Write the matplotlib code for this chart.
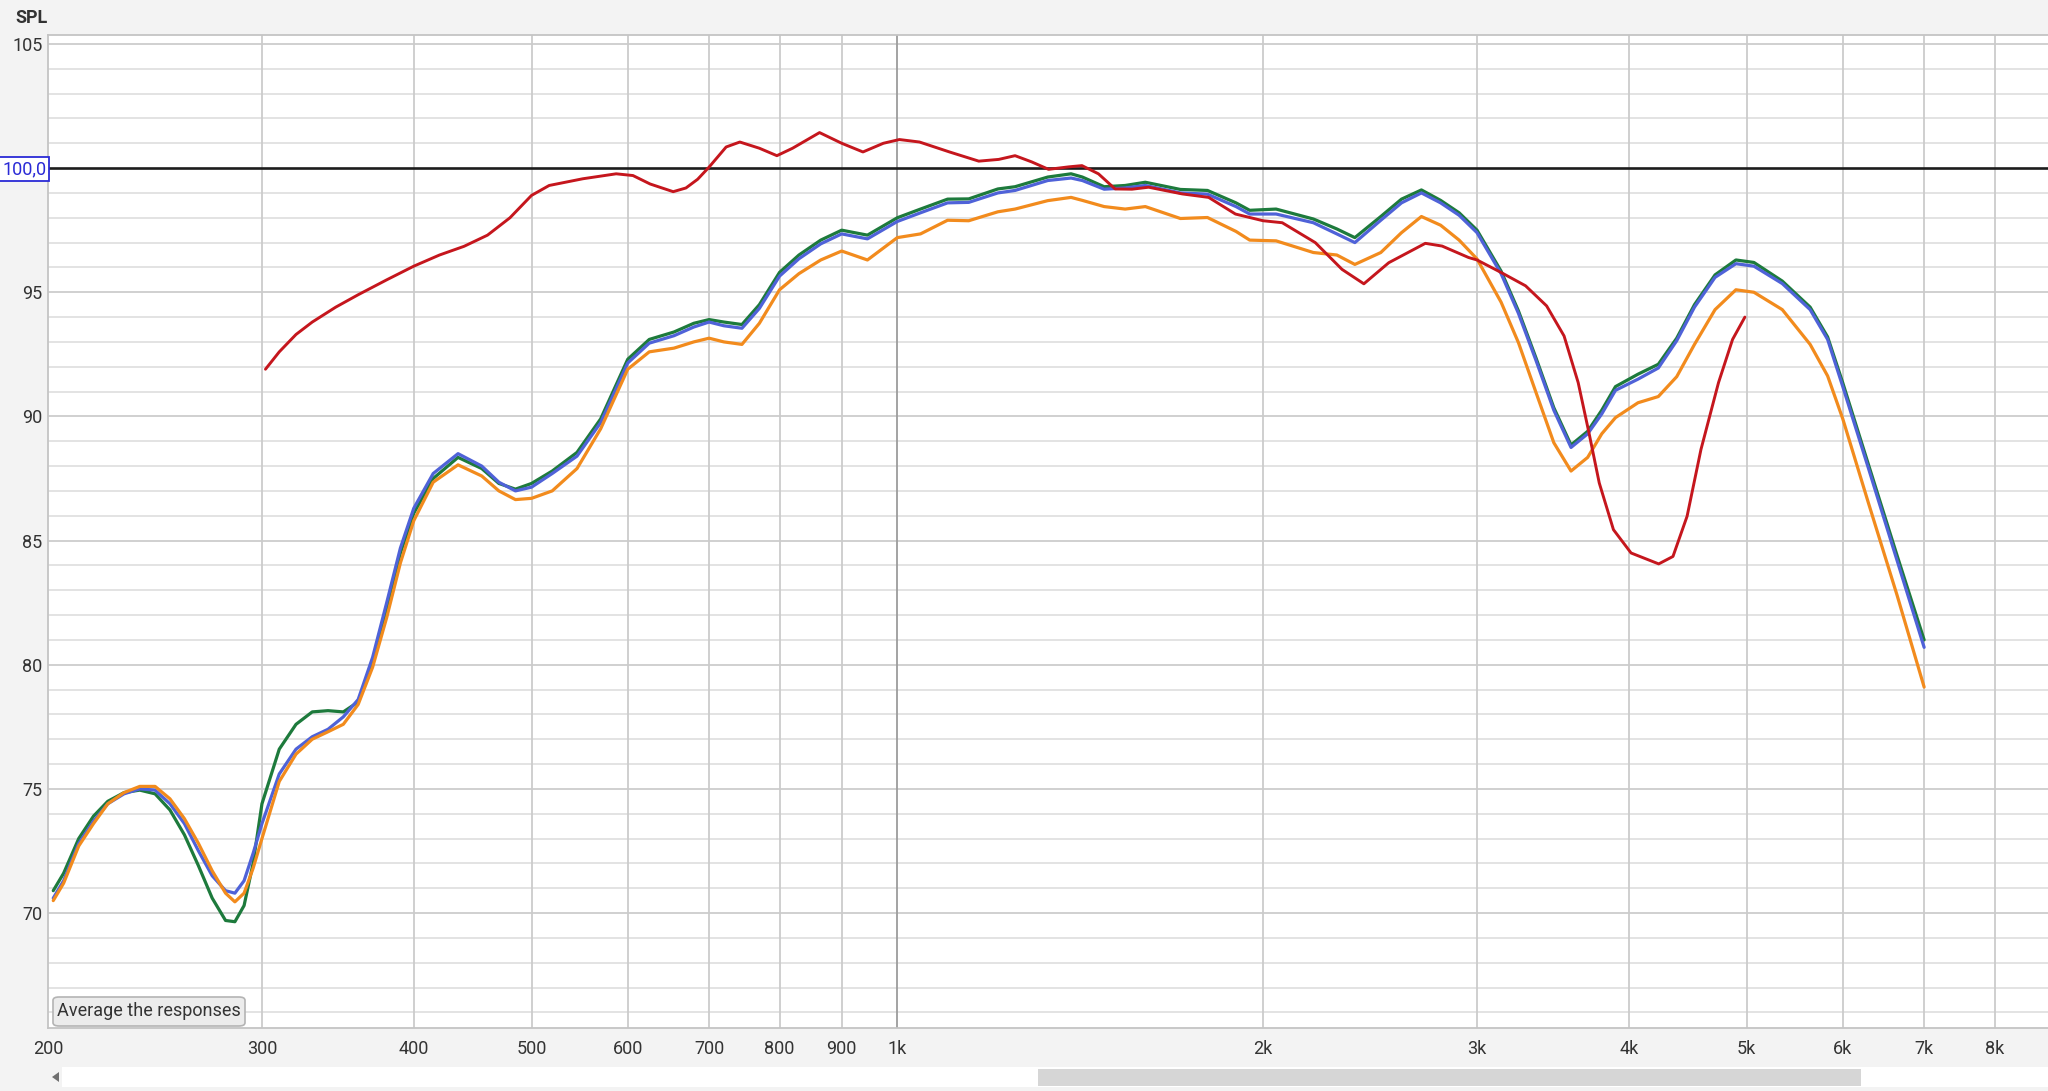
import numpy as np
import matplotlib.pyplot as plt
from matplotlib.ticker import NullLocator, FixedLocator, FixedFormatter
from matplotlib.patches import FancyBboxPatch, Rectangle, Polygon

# frequency grid shared by the three full-range responses (Hz)
freq_hz = [202, 206, 212, 218, 224, 231, 238, 245, 252, 259, 266, 273, 280, 285, 290, 295,
           300, 310, 320, 330, 340, 350, 360, 370, 380, 390, 400, 415, 435, 455, 470, 485,
           500, 520, 545, 570, 600, 625, 655, 680, 700, 720, 745, 770, 800, 830, 865, 900,
           945, 1000, 1045, 1100, 1145, 1210, 1250, 1330, 1390, 1420, 1480, 1540, 1600, 1710,
           1800, 1900, 1950, 2050, 2200, 2300, 2380, 2500, 2600, 2700, 2800, 2900, 3000,
           3140, 3245, 3355, 3470, 3585, 3700, 3800, 3900, 4070, 4230, 4380, 4530, 4710,
           4900, 5070, 5350, 5640, 5830, 6000, 6300, 6650, 7000]

spl_green = [70.9, 71.6, 73.0, 73.9, 74.5, 74.85, 74.95, 74.8, 74.15, 73.15, 71.9, 70.6, 69.7, 69.65, 70.3, 72.0,
             74.4, 76.6, 77.6, 78.1, 78.15, 78.1, 78.5, 80.1, 82.3, 84.5, 86.1, 87.5, 88.35, 87.9, 87.3, 87.07,
             87.3, 87.8, 88.55, 89.9, 92.3, 93.1, 93.4, 93.75, 93.9, 93.8, 93.7, 94.5, 95.8, 96.5, 97.1, 97.5,
             97.3, 98.0, 98.35, 98.75, 98.76, 99.16, 99.25, 99.64, 99.77, 99.64, 99.25, 99.3, 99.43, 99.14,
             99.1, 98.6, 98.3, 98.35, 97.95, 97.55, 97.2, 98.05, 98.75, 99.12, 98.7, 98.2, 97.5,
             95.85, 94.25, 92.35, 90.35, 88.85, 89.4, 90.25, 91.2, 91.7, 92.1, 93.15, 94.5, 95.7,
             96.3, 96.2, 95.45, 94.4, 93.2, 91.35, 88.05, 84.4, 81.0]

spl_blue = [70.6, 71.3, 72.8, 73.7, 74.4, 74.8, 75.0, 74.95, 74.4, 73.6, 72.5, 71.5, 70.9, 70.8, 71.3, 72.4,
            73.6, 75.6, 76.6, 77.1, 77.4, 77.9, 78.6, 80.3, 82.5, 84.7, 86.3, 87.7, 88.5, 88.0, 87.35, 87.0,
            87.15, 87.7, 88.4, 89.75, 92.15, 92.95, 93.25, 93.6, 93.8, 93.65, 93.55, 94.35, 95.65, 96.35, 96.95, 97.35,
            97.15, 97.85, 98.2, 98.6, 98.62, 99.0, 99.1, 99.5, 99.6, 99.5, 99.15, 99.2, 99.3, 99.0,
            98.95, 98.45, 98.15, 98.15, 97.8, 97.35, 97.0, 97.9, 98.6, 99.0, 98.6, 98.1, 97.4,
            95.75, 94.15, 92.25, 90.25, 88.75, 89.3, 90.1, 91.05, 91.5, 91.95, 93.05, 94.4, 95.6,
            96.15, 96.05, 95.35, 94.3, 93.1, 91.2, 87.9, 84.2, 80.7]

spl_orange = [70.5, 71.2, 72.7, 73.6, 74.4, 74.85, 75.1, 75.1, 74.6, 73.8, 72.8, 71.7, 70.8, 70.45, 70.8, 71.8,
              73.0, 75.3, 76.4, 77.0, 77.3, 77.6, 78.4, 79.9, 81.9, 84.1, 85.8, 87.35, 88.05, 87.6, 87.0, 86.65,
              86.7, 87.0, 87.9, 89.5, 91.9, 92.6, 92.75, 93.0, 93.15, 93.0, 92.9, 93.75, 95.1, 95.75, 96.3, 96.66,
              96.3, 97.2, 97.35, 97.9, 97.88, 98.24, 98.35, 98.69, 98.82, 98.7, 98.45, 98.35, 98.45, 97.97,
              98.01, 97.45, 97.1, 97.07, 96.6, 96.5, 96.12, 96.6, 97.4, 98.05, 97.7, 97.1, 96.34,
              94.6, 92.97, 90.96, 88.94, 87.8, 88.35, 89.3, 89.95, 90.55, 90.8, 91.6, 92.9, 94.3,
              95.1, 95.0, 94.3, 92.9, 91.63, 89.9, 86.5, 82.8, 79.1]

# the red response only covers 300 Hz - 5 kHz
freq_red = [302, 310, 320, 330, 345, 360, 380, 400, 420, 440, 460, 480, 500, 517, 551, 587,
            606, 626, 654, 670, 685, 700, 723, 742, 770, 796, 820, 863, 900, 937, 974, 1004,
            1043, 1104, 1167, 1212, 1250, 1290, 1332, 1384, 1419, 1464, 1511, 1560, 1610, 1716,
            1804, 1898, 2000, 2074, 2208, 2323, 2421, 2538, 2720, 2808, 2952, 3000, 3139, 3289,
            3423, 3538, 3634, 3709, 3782, 3885, 4017, 4233, 4349, 4467, 4586, 4741, 4869, 4984]
spl_red = [91.9, 92.6, 93.3, 93.8, 94.4, 94.9, 95.5, 96.05, 96.5, 96.85, 97.3, 98.0, 98.9, 99.3, 99.57, 99.77,
           99.7, 99.36, 99.05, 99.2, 99.55, 100.04, 100.85, 101.05, 100.8, 100.5, 100.8, 101.43, 101.0, 100.65, 101.0, 101.15,
           101.05, 100.65, 100.28, 100.35, 100.5, 100.25, 99.95, 100.05, 100.1, 99.77, 99.16, 99.15, 99.23, 98.96,
           98.82, 98.15, 97.88, 97.8, 97.0, 95.92, 95.34, 96.19, 96.97, 96.86, 96.4, 96.3, 95.8, 95.26,
           94.45, 93.24, 91.36, 89.34, 87.32, 85.44, 84.5, 84.06, 84.36, 85.98, 88.67, 91.36, 93.1, 94.0]

x_ticks = [200, 300, 400, 500, 600, 700, 800, 900, 1000, 2000, 3000, 4000, 5000, 6000, 7000, 8000]
x_labels = ['200', '300', '400', '500', '600', '700', '800', '900', '1k', '2k', '3k', '4k', '5k', '6k', '7k', '8k']
y_ticks = [70, 75, 80, 85, 90, 95, 105]
ref_level = 100.0

FONT = ['Roboto', 'DejaVu Sans']
W, H = 2048, 1091

fig = plt.figure(figsize=(W / 100, H / 100), dpi=100, facecolor='#f3f3f3')
# plot area: x 48..2048 px, y 35..1028 px
ax = fig.add_axes([48 / W, (H - 1028) / H, (W - 48) / W, (1028 - 35) / H])
ax.set_facecolor('white')
ax.set_xscale('log')
ax.set_xlim(200, 8852)
ax.set_ylim(65.37, 105.36)

# grid: 1 dB rows, 5 dB rows slightly darker, decade lines
for v in range(66, 106):
    if v == 100:
        continue
    ax.axhline(v, color='#cdcdcd' if v % 5 == 0 else '#e0e0e0', lw=1.3, zorder=0.5)
for f in x_ticks[1:]:
    ax.axvline(f, color='#9c9c9c' if f == 1000 else '#cbcbcb', lw=1.3, zorder=0.6)
ax.axhline(ref_level, color='#1c1c1c', lw=1.9, zorder=1)

for side in ['left', 'bottom', 'top']:
    ax.spines[side].set_color('#c4c4c4')
    ax.spines[side].set_linewidth(1.3)
ax.spines['right'].set_visible(False)

# responses
style = dict(solid_joinstyle='round', solid_capstyle='round')
ax.plot(freq_hz, spl_green, color='#1d7a3c', lw=2.3, zorder=3, **style)
ax.plot(freq_hz, spl_blue, color='#4f62d8', lw=2.3, zorder=4, **style)
ax.plot(freq_hz, spl_orange, color='#f28b1d', lw=2.3, zorder=5, **style)
ax.plot(freq_red, spl_red, color='#c5161d', lw=2.1, zorder=6, **style)

# ticks
ax.xaxis.set_major_locator(FixedLocator(x_ticks))
ax.xaxis.set_major_formatter(FixedFormatter(x_labels))
ax.xaxis.set_minor_locator(NullLocator())
ax.set_yticks(y_ticks)
ax.set_yticklabels([str(v) for v in y_ticks])
ax.yaxis.set_minor_locator(NullLocator())
ax.tick_params(axis='x', length=0, pad=9, labelsize=13, labelcolor='#333333')
ax.tick_params(axis='y', length=0, pad=4, labelsize=13, labelcolor='#333333')
for lab in ax.get_xticklabels() + ax.get_yticklabels():
    lab.set_family(FONT)

# reference level marker
fig.text(2 / W, 1 - 169 / H, '100,0', ha='left', va='center', fontsize=13, color='#2a2ad6',
         family=FONT, zorder=10,
         bbox=dict(boxstyle='square,pad=0.16', fc='white', ec='#2a2ad6', lw=1.3))

fig.text(15 / W, 1 - 18 / H, 'SPL', ha='left', va='center', fontsize=13, fontweight='bold',
         color='#333333', family=FONT)

# "Average the responses" button
btn = FancyBboxPatch((53 / W, (H - 1026) / H), 192 / W, 29 / H,
                     boxstyle='round,pad=0,rounding_size=0.003', transform=fig.transFigure,
                     fc='#ececec', ec='#b4b4b4', lw=1.2, zorder=20)
fig.patches.append(btn)
fig.text(149 / W, 1 - 1011 / H, 'Average the responses', ha='center', va='center',
         fontsize=13, color='#333333', family=FONT, zorder=21)

# horizontal scrollbar
fig.patches.append(Rectangle((62 / W, (H - 1087) / H), (W - 62) / W, 20 / H,
                             transform=fig.transFigure, fc='white', ec='none'))
fig.patches.append(Rectangle((1038 / W, (H - 1086) / H), 823 / W, 17 / H,
                             transform=fig.transFigure, fc='#d6d6d6', ec='none'))
fig.patches.append(Polygon([(52 / W, 1 - 1077 / H), (59 / W, 1 - 1072 / H), (59 / W, 1 - 1082 / H)],
                           closed=True, transform=fig.transFigure, fc='#707070', ec='none'))

fig.savefig('out.png', dpi=100, facecolor=fig.get_facecolor())
